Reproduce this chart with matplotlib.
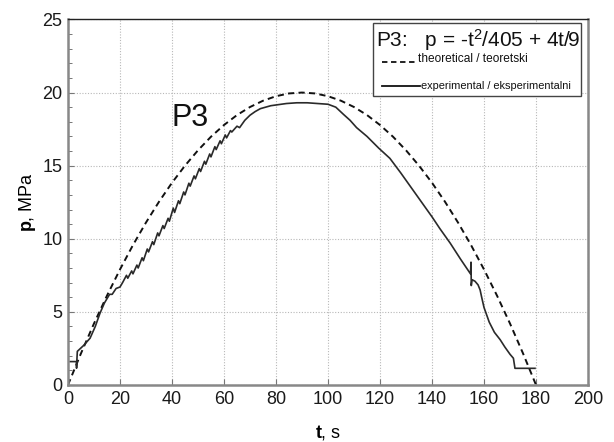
import matplotlib

matplotlib.use("Agg")

import matplotlib.pyplot as plt
from matplotlib.lines import Line2D
from matplotlib.patches import Rectangle

# theoretical curve, every 5 s
theory_t = [0, 5, 10, 15, 20, 25, 30, 35, 40, 45, 50, 55, 60, 65, 70, 75, 80, 85, 90,
            95, 100, 105, 110, 115, 120, 125, 130, 135, 140, 145, 150, 155, 160, 165,
            170, 175, 180]
theory_p = [0.0, 2.16, 4.20, 6.11, 7.90, 9.57, 11.11, 12.53, 13.83, 15.0, 16.05, 16.98,
            17.78, 18.46, 19.01, 19.44, 19.75, 19.94, 20.0, 19.94, 19.75, 19.44, 19.01,
            18.46, 17.78, 16.98, 16.05, 15.0, 13.83, 12.53, 11.11, 9.57, 7.90, 6.11,
            4.20, 2.16, 0.0]

exp_t = [0.8, 3.3, 3.3, 3.4, 3.6, 6.0, 8.5, 10.5, 12.3, 14.0, 16.0, 17.0, 18.5, 20.0,
         21.0, 22.5, 23.0, 24.5, 25.0, 26.5, 27.0, 28.5, 29.0, 30.5, 31.0, 32.5, 33.0,
         34.5, 35.0, 36.5, 37.0, 38.5, 39.0, 40.5, 41.0, 42.5, 43.0, 44.5, 45.0, 46.5,
         47.0, 48.5, 49.0, 50.5, 51.0, 52.5, 53.0, 54.5, 55.0, 56.5, 57.0, 58.5, 59.0,
         60.5, 61.0, 62.5, 63.0, 65.0, 66.0, 68.0, 70.0, 72.0, 74.0, 76.0, 78.0, 80.0,
         84.0, 88.0, 92.0, 96.0, 100.0, 103.0, 106.0, 108.5, 111.0, 115.0, 119.5, 123.8,
         128.0, 132.0, 136.0, 140.0, 143.0, 147.0, 151.0, 154.8, 155.0, 155.1, 155.4,
         156.5, 157.7, 158.5, 159.1, 160.0, 162.0, 164.0, 166.2, 168.0, 170.0, 171.3,
         171.9, 175.0, 179.6]
exp_p = [1.6, 1.6, 1.15, 1.6, 2.3, 2.7, 3.2, 4.0, 4.9, 5.6, 6.2, 6.2, 6.6, 6.7,
         7.0, 7.5, 7.3, 7.8, 7.6, 8.2, 8.0, 8.7, 8.5, 9.3, 9.1, 9.8, 9.6,
         10.4, 10.2, 10.9, 10.7, 11.4, 11.2, 12.1, 11.8, 12.6, 12.4, 13.2, 13.0, 13.8,
         13.6, 14.3, 14.1, 14.8, 14.6, 15.3, 15.1, 15.8, 15.6, 16.3, 16.1, 16.7, 16.5,
         17.1, 16.9, 17.4, 17.3, 17.7, 17.6, 18.1, 18.45, 18.7, 18.9, 19.0, 19.1, 19.15,
         19.25, 19.3, 19.3, 19.25, 19.2, 19.0, 18.5, 18.1, 17.6, 17.0, 16.2, 15.5,
         14.5, 13.5, 12.5, 11.5, 10.7, 9.7, 8.6, 7.6, 8.4, 6.8, 7.2,
         7.1, 6.85, 6.5, 6.0, 5.3, 4.3, 3.6, 3.1, 2.6, 2.1, 1.83,
         1.14, 1.14, 1.14]

x_ticks = [0, 20, 40, 60, 80, 100, 120, 140, 160, 180, 200]
y_ticks = [0, 5, 10, 15, 20, 25]

plt.rcParams.update(
    {
        "font.family": ["Liberation Sans", "DejaVu Sans"],
        "mathtext.fontset": "custom",
        "mathtext.rm": "Liberation Sans",
        "mathtext.it": "Liberation Sans",
        "mathtext.bf": "Liberation Sans:bold",
    }
)

fig = plt.figure(figsize=(6.14, 4.42), dpi=100)
fig.patch.set_facecolor("white")
ax = fig.add_axes((0.1107, 0.129, 0.847, 0.827))

ax.plot(theory_t, theory_p, color="#111111", linestyle=(0, (3.2, 2.2)), linewidth=1.4)
ax.plot(exp_t, exp_p, color="#2a2a2a", linestyle="-", linewidth=1.2)

ax.set_xlim(0, 200)
ax.set_ylim(0, 25)
ax.set_xticks(x_ticks)
ax.set_yticks(y_ticks)
ax.set_yticks(range(0, 26), minor=True)
ax.tick_params(axis="both", which="major", direction="in", length=4, width=0.8,
               color="#777777", labelsize=13, labelcolor="#1a1a1a", pad=4)
ax.tick_params(axis="y", which="minor", direction="in", length=3, width=0.7,
               color="#777777")
ax.grid(True, which="major", linestyle=(0, (1, 1.5)), color="#b8b8b8", linewidth=0.8)

for side in ("left", "right", "bottom"):
    ax.spines[side].set_color("#888888")
    ax.spines[side].set_linewidth(1.8)
ax.spines["top"].set_color("#222222")
ax.spines["top"].set_linewidth(1.0)

ax.set_xlabel(r"$\mathbf{t}$, s", fontsize=13, labelpad=11)
ax.set_ylabel(r"$\mathbf{p}$, MPa", fontsize=13, labelpad=3)

ax.text(40, 17.7, "P3", fontsize=22, ha="left", va="baseline", color="#111111")

# legend box drawn in figure coordinates
fig.patches.append(
    Rectangle((0.6075, 0.7828), 0.3388, 0.165, transform=fig.transFigure,
              facecolor="white", edgecolor="#444444", linewidth=1.0, zorder=5)
)
fig.text(0.612, 0.910, r"P3:   p = -t$^2$/405 + 4t/9", fontsize=15, ha="left",
         va="center", color="#111111", zorder=6)
fig.lines.append(
    Line2D([0.622, 0.679], [0.860, 0.860], transform=fig.transFigure, color="#111111",
           linestyle=(0, (3, 2)), linewidth=1.3, zorder=6)
)
fig.text(0.680, 0.866, "theoretical / teoretski", fontsize=8.6, ha="left",
         va="center", color="#111111", zorder=6)
fig.lines.append(
    Line2D([0.622, 0.684], [0.805, 0.805], transform=fig.transFigure, color="#111111",
           linestyle="-", linewidth=1.3, zorder=6)
)
fig.text(0.685, 0.805, "experimental / eksperimentalni", fontsize=7.9, ha="left",
         va="center", color="#111111", zorder=6)

fig.savefig("out.png", dpi=100)
